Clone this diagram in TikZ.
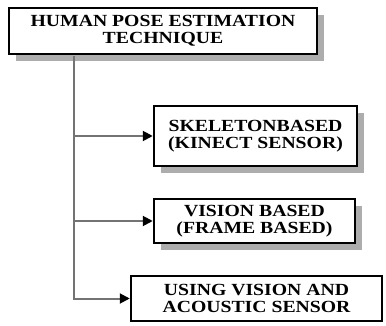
\documentclass[tikz,border=0pt]{standalone}
\usepackage{fontspec}
\setmainfont{Liberation Serif}[FakeStretch=1.16]
\usetikzlibrary{arrows.meta,shadows}
\begin{document}
\begin{tikzpicture}[x=1pt,y=-1pt,
  box/.style={draw=black, line width=2.5pt, fill=white, align=center,
    font=\fontsize{17}{16.5}\selectfont\bfseries, inner sep=0pt},
  shad/.style={drop shadow={shadow xshift=7pt, shadow yshift=-7pt, fill=black!32, opacity=1}},
  conn/.style={draw=black!55, line width=2pt, -{Triangle[length=10pt,width=10pt,color=black]}}]
\useasboundingbox (0,0) rectangle (386,326);
\fill[white] (0,0) rectangle (386,326);

\node[box, shad, minimum width=308pt, minimum height=46pt] (top) at (163,31) {HUMAN POSE ESTIMATION\\TECHNIQUE};
\node[box, shad, minimum width=203pt, minimum height=60pt] (b1) at (255.5,136) {SKELETONBASED\\(KINECT SENSOR)};
\node[box, shad, minimum width=201pt, minimum height=44pt] (b2) at (254.5,221) {VISION BASED\\(FRAME BASED)};
\node[box, minimum width=251pt, minimum height=45pt] (b3) at (256.5,298.5) {USING VISION AND\\ACOUSTIC SENSOR};

\coordinate (trunk) at (74,56);
\draw[conn] (trunk) |- (b3.west);
\draw[conn] (trunk |- b1.west) -- (b1.west);
\draw[conn] (trunk |- b2.west) -- (b2.west);
\end{tikzpicture}
\end{document}
